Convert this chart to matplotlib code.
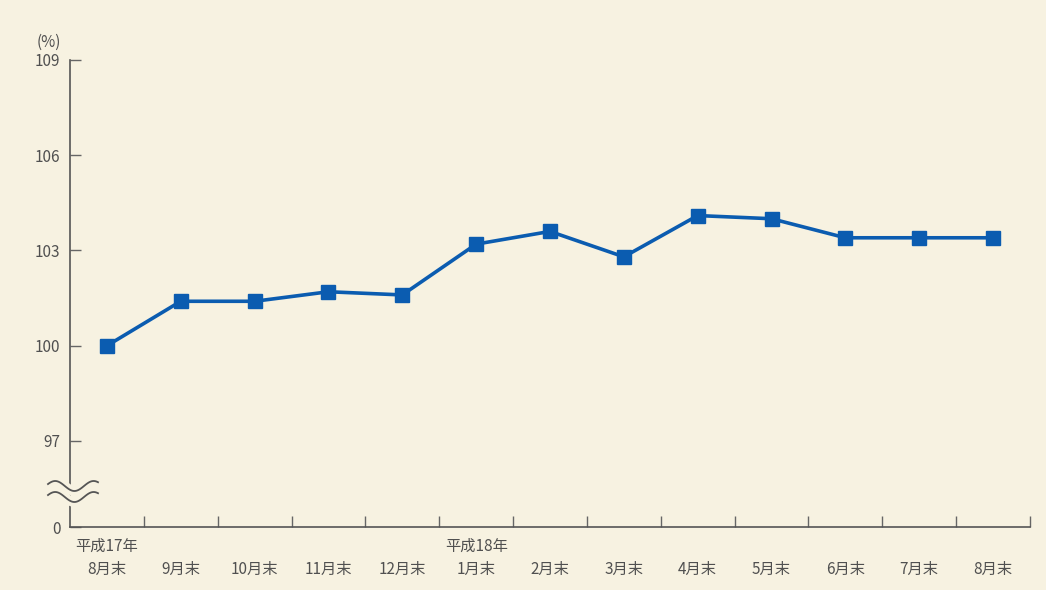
import numpy as np
import matplotlib
matplotlib.use("Agg")
import matplotlib.pyplot as plt

plt.rcParams['font.family'] = ['Noto Sans CJK JP', 'DejaVu Sans']

months = ["平成17年\n8月末", "\n9月末", "\n10月末", "\n11月末", "\n12月末", "平成18年\n1月末",
          "\n2月末", "\n3月末", "\n4月末", "\n5月末", "\n6月末", "\n7月末", "\n8月末"]
values = [100.0, 101.4, 101.4, 101.7, 101.6, 103.2, 103.6, 102.8, 104.1, 104.0, 103.4, 103.4, 103.4]
ytick_values = [97, 100, 103, 106, 109]
zero_pos = 94.29  # position where the "0" sits after the axis break

bg = "#f7f2e1"
txt = "#505050"
blue = "#0b5cb0"

fig = plt.figure(figsize=(10.46, 5.9), dpi=100, facecolor=bg)
ax = fig.add_axes([70/1046, 63/590, 960/1046, 467/590])
ax.set_facecolor(bg)

x = np.arange(len(months))
ax.plot(x, values, color=blue, lw=2.6, marker='s', markersize=10, zorder=3)

ax.set_xlim(-0.5, len(months) - 0.5)
ax.set_ylim(zero_pos, 109)

ax.set_yticks([zero_pos] + ytick_values)
ax.set_yticklabels(["0"] + [str(v) for v in ytick_values])
ax.tick_params(axis='y', direction='in', length=8, width=1, color='#666666',
               labelsize=11, labelcolor=txt, pad=7)

ax.set_xticks(x)
ax.set_xticklabels(months, linespacing=1.45)
ax.tick_params(axis='x', length=0, labelsize=11, labelcolor=txt, pad=8)
ax.set_xticks(np.arange(len(months)) + 0.5, minor=True)
ax.tick_params(axis='x', which='minor', direction='in', length=8, width=1, color='#666666')

for s in ['top', 'right']:
    ax.spines[s].set_visible(False)
for s in ['left', 'bottom']:
    ax.spines[s].set_color('#555555')
    ax.spines[s].set_linewidth(1.2)

# axis break symbol (wavy lines)
t = np.linspace(0, 1, 100)
xs = (48 + 50 * t) / 1046
for yc in (486, 497):
    ys = (590 - (yc - 5 * np.sin(2 * np.pi * 1.3 * t + 0.4))) / 590
    fig.add_artist(plt.Line2D(xs, ys, color=bg, lw=7, transform=fig.transFigure, zorder=5))
for yc in (486, 497):
    ys = (590 - (yc - 5 * np.sin(2 * np.pi * 1.3 * t + 0.4))) / 590
    fig.add_artist(plt.Line2D(xs, ys, color='#555555', lw=1.3, transform=fig.transFigure, zorder=6))

fig.text(49/1046, 1 - 42/590, "(%)", fontsize=11, color=txt, ha='center', va='center')

fig.savefig("out.png", dpi=100, facecolor=bg)
